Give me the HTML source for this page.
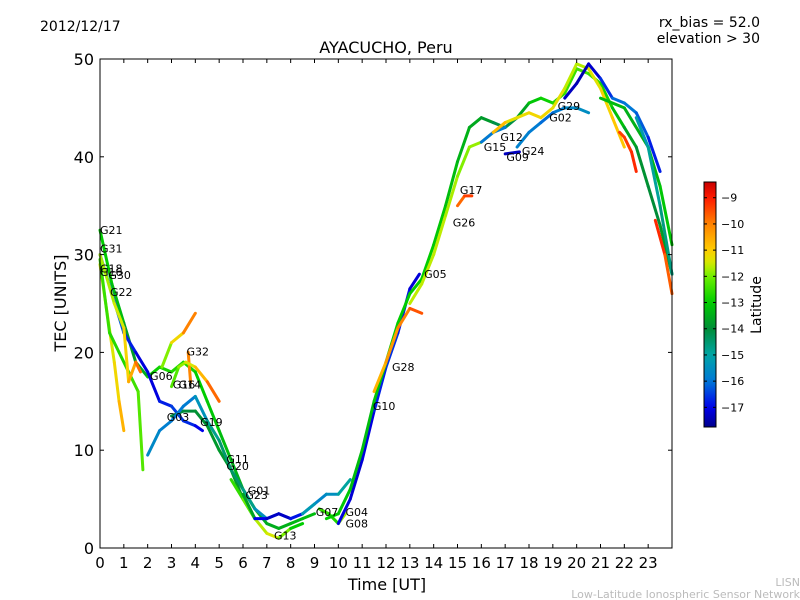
<!DOCTYPE html>
<html><head><meta charset="utf-8"><style>
body{margin:0;background:#fff;}
svg{display:block;font-family:"DejaVu Sans","Liberation Sans",sans-serif;}
</style></head><body>
<svg id="chart" width="800" height="600" viewBox="0 0 800 600" xmlns="http://www.w3.org/2000/svg">
<rect width="800" height="600" fill="#fff"/>
<text x="40" y="31" font-size="14">2012/12/17</text>
<text x="760" y="27" font-size="14" text-anchor="end">rx_bias = 52.0</text>
<text x="760" y="43" font-size="14" text-anchor="end">elevation &gt; 30</text>
<text x="386" y="53" font-size="16" text-anchor="middle">AYACUCHO, Peru</text>
<text x="66" y="303" font-size="16" text-anchor="middle" transform="rotate(-90 66 303)">TEC [UNITS]</text>
<text x="387" y="590" font-size="16" text-anchor="middle">Time [UT]</text>
<text x="800" y="586" font-size="11" fill="#bbb" text-anchor="end">LISN</text>
<text x="800" y="598" font-size="11" fill="#bbb" text-anchor="end">Low-Latitude Ionospheric Sensor Network</text>
<g id="marks"></g>
<g id="axes"></g>
<g id="cbar"></g>
</svg>
<script>
const xTicks=[0,1,2,3,4,5,6,7,8,9,10,11,12,13,14,15,16,17,18,19,20,21,22,23];
const yTicks=[0,10,20,30,40,50];
const cbTicks=[-9,-10,-11,-12,-13,-14,-15,-16,-17];
// tracks: [time, tec, latitude]
const trkG21=[[0,32.5,-13],[0.5,27,-13],[1,23,-13.5],[1.5,19,-14],[2,17.5,-13],[2.5,18.5,-12.8],[3,18,-12.8],[3.5,19,-12.6],[4,18,-13],[4.5,15,-13],[5,12,-13.2],[5.5,9,-13.3],[6,6,-13.5],[6.5,4,-13.5],[7,2.5,-13.5],[7.5,2,-13.5],[8,2.5,-13.4],[8.5,3,-13.3],[9,3.5,-13.2]];
const trkG31=[[0,30,-16],[0.5,26,-16],[1,22,-16.5],[1.5,20,-17],[2,18,-17.2],[2.5,15,-17],[3,14.5,-16.5],[3.5,13,-16.5],[4,12.5,-16.8],[4.3,12,-17.2]];
const trkG30=[[0,29,-11.5],[0.3,24,-11.5],[0.6,19,-11.3],[0.8,15,-11],[1,12,-10.3]];
const trkG22=[[0,29.5,-12.5],[0.4,22,-12.5],[0.8,20,-12.8],[1.2,18,-12.6],[1.6,16,-12.3],[1.8,8,-12.2]];
const trkG18=[[0,30,-11.8],[0.6,25,-11.6],[1,22.5,-11.4],[1.2,17,-10.8],[1.5,19,-10.2],[1.7,18,-9.4]];
const trkG32=[[2.6,18.5,-12.3],[3,21,-11.5],[3.5,22,-10.8],[4,24,-9.2]];
const trkG32b=[[3.7,20,-9.6],[3.8,17,-10.5]];
const trkG16=[[3,16.5,-12.5],[3.3,18.5,-12],[3.6,19,-11.6],[4,18.5,-11.2],[4.5,17,-10.2],[5,15,-9.3]];
const trkG03=[[3,13.5,-14.2],[3.5,14,-14],[4,14,-14],[4.5,12.5,-13.8],[5,10,-13.8],[5.5,8,-13.8],[6,5,-13.7],[6.5,3,-13.6]];
const trkG19=[[2,9.5,-15.5],[2.5,12,-15.8],[3,13,-15.9],[3.5,14.5,-16],[4,15.5,-15.8],[4.5,13,-15],[5,11,-14.6],[5.5,8,-14.4],[6,6,-14.5],[6.5,4,-15],[7,3,-16],[7.5,3.5,-16.5],[8,3,-16.2],[8.5,3.5,-16],[9,4.5,-15.8],[9.5,5.5,-15.6],[10,5.5,-15.4],[10.5,7,-14.5]];
const trkG11=[[5.5,7,-12.8],[6,5,-12.3],[6.5,3,-11.8],[7,1.5,-11.5],[7.5,1,-11.4],[8,2,-12.5],[8.5,2.5,-13.5]];
const trkG01=[[6,5.5,-10.5],[6.5,3,-16.8],[7,3,-17.2],[7.5,3.5,-17.4],[8,3,-17.2],[8.5,3.5,-16.5],[9,4.5,-14]];
const trkG07=[[9.2,4,-13],[9.6,3.5,-12],[10,2.5,-13.5],[10.3,3.5,-10]];
const trkG10=[[10,2.5,-17],[10.5,5,-17.2],[11,9,-17.2],[11.5,14,-17],[12,18.5,-16.5],[12.5,22,-16.7],[13,26.5,-17],[13.4,28,-17.3]];
const trkMain=[[9.5,3,-13],[10,3.5,-13],[10.5,6,-13.2],[11,10,-13.3],[11.5,15,-13.2],[12,19,-13],[12.5,23,-13],[13,26,-13],[13.5,27.5,-13],[14,31,-13],[14.5,35,-13.2],[15,39.5,-13.3],[15.5,43,-13.5],[16,44,-13.6],[16.5,43.5,-14],[17,43,-14.3],[17.5,44,-14],[18,45.5,-13.2],[18.5,46,-13],[19,45.5,-12.8],[19.5,46.5,-12.6],[20,49,-12.4],[20.5,48.5,-12.4],[21,47.5,-12.6],[21.5,45,-13],[22,43,-13.4],[22.5,41,-13.8],[23,37,-14],[23.5,33,-14],[24,28,-13.5]];
const trkG28=[[11.5,16,-10.8],[12,19,-10.5],[12.5,22.5,-10.2],[13,24.5,-9.8],[13.5,24,-9.3]];
const trkYel=[[13,25,-11.6],[13.5,27,-11.6],[14,30,-11.6],[14.5,34,-11.6],[15,38,-11.8],[15.5,41,-12],[16,41.5,-11.6],[16.5,42.5,-11.4],[17,43.5,-11.3],[17.5,44,-11.3],[18,44.5,-11.2],[18.5,44,-11.1],[19,45,-11.2],[19.5,47,-11.4],[20,49.5,-11.8],[20.5,49,-11.5],[21,47,-11.2],[21.5,44,-11],[22,41,-10.8]];
const trkG29=[[19.5,46,-17.3],[20,47.5,-17.4],[20.5,49.5,-17.5],[21,48,-17],[21.5,46,-16.2],[22,45.5,-16],[22.5,44.5,-16],[23,42,-16.5],[23.5,38.5,-17]];
const trkG02=[[19,44.5,-16],[19.5,45,-15.8],[20,45,-15.5],[20.5,44.5,-15.6]];
const trkG15=[[16,41.5,-16],[16.5,42.5,-16],[17,43,-15.8]];
const trkG09=[[17,40.3,-17.3],[17.6,40.5,-17.4]];
const trkG24=[[17.5,41,-15.8],[18,42.5,-15.8],[18.5,43.5,-16],[19,44.5,-16.2]];
const trkG17=[[15,35,-10],[15.3,36,-9.5],[15.6,36,-9.2]];
const trkG12=[[16.5,42.5,-10.5],[17,43.5,-11]];
const trkRed=[[21.8,42.5,-9.3],[22,42,-9.4],[22.3,40.5,-9.2],[22.5,38.5,-9.1]];
const trkRed2=[[23.3,33.5,-9],[23.7,30,-9.3],[24,26,-10]];
const trkGrnR=[[21,46,-13.2],[22,45,-13.4],[23,41,-13.5],[23.5,37,-13.2],[24,31,-13]];
const trkTealR=[[22.5,44,-15.5],[23,41,-15],[23.5,35,-14.8],[24,28,-14.5]];
const tracks=[trkG21,trkG31,trkG30,trkG22,trkG18,trkG32,trkG32b,trkG16,trkG03,trkG19,trkG11,trkG01,trkG07,trkG10,trkMain,trkG28,trkYel,trkG29,trkG02,trkG15,trkG09,trkG24,trkG17,trkG12,trkRed,trkRed2,trkGrnR,trkTealR];
const prnNames=["G21","G31","G18","G16","G30","G22","G32","G06","G16","G14","G03","G19","G11","G20","G01","G23","G13","G07","G04","G08","G10","G28","G05","G26","G17","G15","G12","G09","G24","G02","G29"];
const prnTimes=[0,0,0,0,0.35,0.42,3.63,2.1,3.05,3.3,2.8,4.2,5.3,5.3,6.2,6.1,7.3,9.05,10.3,10.3,11.45,12.25,13.6,14.8,15.1,16.1,16.8,17.05,17.7,18.85,19.2];
const prnTecs=[32.5,30.6,28.6,28.2,27.9,26.2,20.1,17.6,16.7,16.7,13.4,12.9,9.1,8.4,5.9,5.4,1.3,3.7,3.7,2.5,14.5,18.5,28,33.3,36.6,41,42,40,40.6,44,45.2];

const X0=100,X1=672,Y0=548,Y1=59;
const xS=t=>X0+(X1-X0)*t/24;
const yS=v=>Y0-(Y0-Y1)*v/50;
const LMIN=-17.75,LMAX=-8.4;
// custom colormap stops (latitude -> rgb)
const cmapLat=[-17.75,-17,-16,-15,-14,-13,-12,-11.5,-11,-10,-9,-8.4];
const cmapRGB=[[0,0,140],[0,0,235],[0,120,215],[0,165,165],[0,140,55],[0,205,0],[110,240,0],[210,235,0],[255,205,0],[255,130,0],[255,25,0],[200,0,0]];
function latC(l){
 if(l<=cmapLat[0])return `rgb(${cmapRGB[0]})`;
 for(let i=0;i<cmapLat.length-1;i++){
  if(l<=cmapLat[i+1]){const f=(l-cmapLat[i])/(cmapLat[i+1]-cmapLat[i]);
   const a=cmapRGB[i],b=cmapRGB[i+1];
   return `rgb(${a.map((v,k)=>Math.round(v+(b[k]-v)*f)).join(',')})`;}
 }
 return `rgb(${cmapRGB[cmapRGB.length-1]})`;
}
const NS="http://www.w3.org/2000/svg";
function mk(tag,attrs,parent){const e=document.createElementNS(NS,tag);for(const k in attrs)e.setAttribute(k,attrs[k]);parent.appendChild(e);return e;}
const marks=document.getElementById('marks');
tracks.forEach((tr,ti)=>{
 const g=mk('g',{},marks);
 
 
 for(let i=0;i<tr.length-1;i++){
  const a=tr[i],b=tr[i+1];
  const ln=mk('line',{x1:xS(a[0]),y1:yS(a[1]),x2:xS(b[0]),y2:yS(b[1]),stroke:latC((a[2]+b[2])/2),'stroke-width':3,'stroke-linecap':'round'},g);
  
  
 }
});
prnNames.forEach((n,i)=>{
 const t=mk('text',{x:xS(prnTimes[i]),y:yS(prnTecs[i])+4,'font-size':11},marks);
 t.textContent=n;
 
 
});
const ax=document.getElementById('axes');
const fr=mk('rect',{x:X0,y:Y1,width:X1-X0,height:Y0-Y1,fill:'none',stroke:'#000','stroke-width':1},ax);


xTicks.forEach(v=>{const x=xS(v);
 mk('line',{x1:x,y1:Y0,x2:x,y2:Y0-4,stroke:'#000'},ax);
 mk('line',{x1:x,y1:Y1,x2:x,y2:Y1+4,stroke:'#000'},ax);
 const t=mk('text',{x:x,y:Y0+20,'font-size':15,'text-anchor':'middle'},ax);t.textContent=v;
 
 
});
yTicks.forEach(v=>{const y=yS(v);
 mk('line',{x1:X0,y1:y,x2:X0+4,y2:y,stroke:'#000'},ax);
 mk('line',{x1:X1,y1:y,x2:X1-4,y2:y,stroke:'#000'},ax);
 const t=mk('text',{x:X0-6,y:y+6,'font-size':16,'text-anchor':'end'},ax);t.textContent=v;
 
 
});
// colorbar
const cb=document.getElementById('cbar');
const CX=704,CW=12,CT=182,CB=427;
const defs=mk('defs',{},cb);
const lg=mk('linearGradient',{id:'jetg',x1:0,y1:1,x2:0,y2:0},defs);
for(let i=0;i<=40;i++){const l=LMIN+(LMAX-LMIN)*i/40;mk('stop',{offset:i/40,'stop-color':latC(l)},lg);}
const cr=mk('rect',{x:CX,y:CT,width:CW,height:CB-CT,fill:'url(#jetg)',stroke:'#000','stroke-width':1},cb);


const cy=l=>CB-(CB-CT)*(l-LMIN)/(LMAX-LMIN);
cbTicks.forEach(l=>{const y=cy(l);
 mk('line',{x1:CX,y1:y,x2:CX+3,y2:y,stroke:'#000'},cb);
 mk('line',{x1:CX+CW,y1:y,x2:CX+CW-3,y2:y,stroke:'#000'},cb);
 const t=mk('text',{x:CX+CW+5,y:y+4,'font-size':11},cb);t.textContent='\u2212'+Math.abs(l);
 
 
});
const cl=mk('text',{x:761,y:305,'font-size':14,'text-anchor':'middle',transform:'rotate(-90 761 305)'},cb);
cl.textContent='Latitude';


</script>
</body></html>
